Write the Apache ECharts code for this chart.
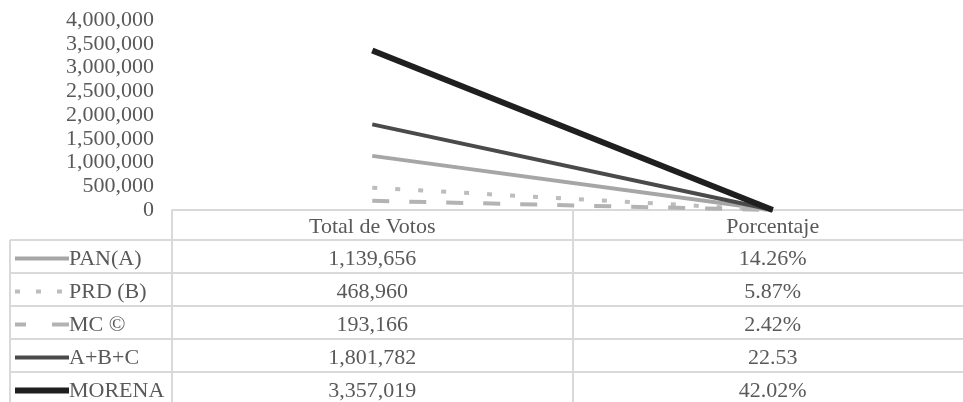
<!DOCTYPE html>
<html>
<head>
<meta charset="utf-8">
<script src="https://cdn.jsdelivr.net/npm/echarts@6/dist/echarts.min.js"></script>
<style>
html, body { margin: 0; padding: 0; background: #fff; overflow: hidden; }
#chart { width: 973px; height: 402px; }
</style>
</head>
<body>
<div id="chart"></div>
<script>
// datos
const categories = ['Total de Votos', 'Porcentaje'];
const partyNames = ['PAN(A)', 'PRD (B)', 'MC ©', 'A+B+C', 'MORENA'];
const totalVotes = [1139656, 468960, 193166, 1801782, 3357019];
const percentValues = [14.26, 5.87, 2.42, 22.53, 42.02];
const percentLabels = ['14.26%', '5.87%', '2.42%', '22.53', '42.02%'];
const totalLabels = ['1,139,656', '468,960', '193,166', '1,801,782', '3,357,019'];

// estilos de cada linea
const lineStyles = [
  { color: '#a6a6a6', width: 4, type: 'solid' },
  { color: '#bdbdbd', width: 4, type: [5, 18] },
  { color: '#b3b3b3', width: 4, type: [17, 20] },
  { color: '#4a4a4a', width: 4, type: 'solid' },
  { color: '#1f1f1f', width: 6, type: 'solid' }
];
// guiones de la leyenda (mas cortos que en el grafico)
const legendDash = [null, [5, 16], [11, 26, 17, 0.01], null, null];

const FONT = 'Liberation Serif';
const TXT = '#595959';
const BORDER = '#d9d9d9';

const chart = echarts.init(document.getElementById('chart'));

const option = {
  animation: false,
  grid: { left: 172, right: 0, top: 20, bottom: 192 },
  xAxis: {
    type: 'category',
    data: categories,
    boundaryGap: true,
    axisLine: { lineStyle: { color: BORDER, width: 2 } },
    axisTick: { show: true, length: 195, lineStyle: { color: BORDER, width: 2 } },
    axisLabel: { color: TXT, fontFamily: FONT, fontSize: 22, margin: 6 }
  },
  yAxis: {
    type: 'value',
    min: 0,
    max: 4000000,
    interval: 500000,
    axisLine: { show: false },
    axisTick: { show: false },
    splitLine: { show: false },
    axisLabel: {
      color: TXT, fontFamily: FONT, fontSize: 22, margin: 18,
      formatter: v => v.toLocaleString('en-US')
    }
  },
  series: partyNames.map((name, i) => ({
    name: name,
    type: 'line',
    symbol: 'none',
    z: 2 + i,
    lineStyle: lineStyles[i],
    data: [totalVotes[i], percentValues[i]]
  }))
};
chart.setOption(option);

// tabla de datos debajo del eje
const c0 = chart.convertToPixel({ xAxisIndex: 0 }, 0);
const c1 = chart.convertToPixel({ xAxisIndex: 0 }, 1);
const half = (c1 - c0) / 2;
const axisY = chart.convertToPixel({ yAxisIndex: 0 }, 0);
const headerH = 30;
const rowH = 33;
const tableLeft = 10;
const tableRight = c1 + half;

const graphic = [];
const firstRowTop = axisY + headerH;
for (let r = 0; r <= partyNames.length; r++) {
  const y = firstRowTop + r * rowH;
  graphic.push({
    type: 'line', silent: true,
    shape: { x1: tableLeft, y1: y, x2: tableRight, y2: y },
    style: { stroke: BORDER, lineWidth: 2 }
  });
}
graphic.push({
  type: 'line', silent: true,
  shape: { x1: tableLeft, y1: firstRowTop, x2: tableLeft, y2: firstRowTop + partyNames.length * rowH },
  style: { stroke: BORDER, lineWidth: 2 }
});

const cellFont = '22px "' + FONT + '"';
partyNames.forEach((name, i) => {
  const cy = firstRowTop + i * rowH + rowH / 2 + 3;
  const ls = lineStyles[i];
  graphic.push({
    type: 'line', silent: true,
    shape: { x1: 15, y1: cy - 1, x2: 69, y2: cy - 1 },
    style: { stroke: ls.color, lineWidth: ls.width, lineDash: legendDash[i] }
  });
  graphic.push({
    type: 'text', silent: true,
    style: { x: 69, y: cy, text: name, font: cellFont, fill: TXT, verticalAlign: 'middle' }
  });
  graphic.push({
    type: 'text', silent: true,
    style: { x: c0, y: cy, text: totalLabels[i], font: cellFont, fill: TXT, align: 'center', verticalAlign: 'middle' }
  });
  graphic.push({
    type: 'text', silent: true,
    style: { x: c1, y: cy, text: percentLabels[i], font: cellFont, fill: TXT, align: 'center', verticalAlign: 'middle' }
  });
});

chart.setOption({ graphic: graphic });
</script>
</body>
</html>
